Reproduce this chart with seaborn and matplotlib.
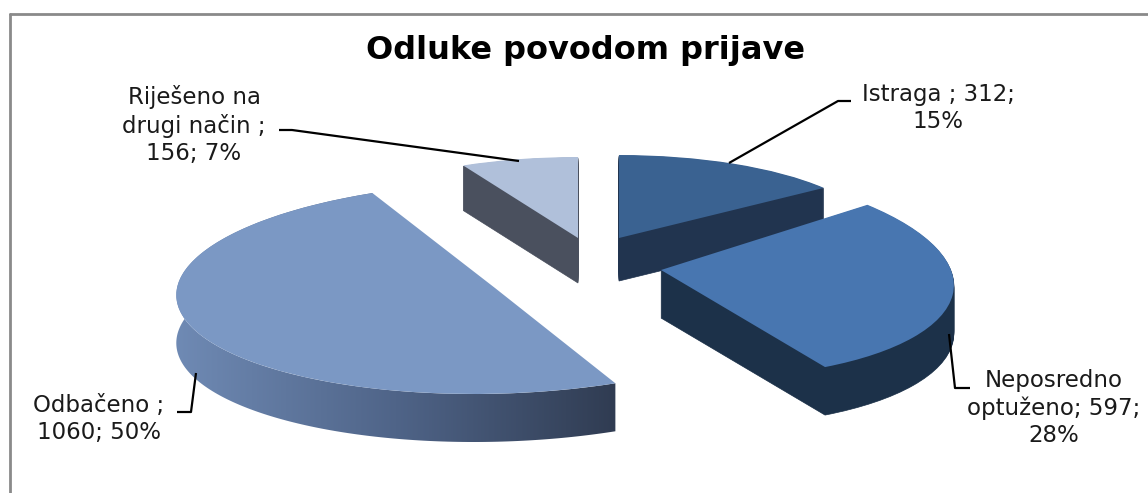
# Import libraries
import numpy as np
import matplotlib
matplotlib.use('Agg')
import matplotlib.pyplot as plt
import seaborn as sns
from matplotlib.patches import PathPatch, Polygon
from matplotlib.transforms import Affine2D
from matplotlib.colors import LinearSegmentedColormap

# Chart data
title = 'Odluke povodom prijave'
categories = ['Istraga', 'Neposredno optuženo', 'Odbačeno', 'Riješeno na drugi način']
values = [312, 597, 1060, 156]
percents = [15, 28, 50, 7]
label_templates = ['Istraga ; {v};\n{p}%', 'Neposredno\noptuženo; {v};\n{p}%',
                   'Odbačeno ;\n{v}; {p}%', 'Riješeno na\ndrugi način ;\n{v}; {p}%']

# Colours
top_colors = sns.color_palette(['#3A6291', '#4876B0', '#7B98C4', '#B0C0DA'])
wall_colors = sns.color_palette(['#21344F', '#1C3149', '#6B85AE', '#4A505E'])
wall_gradient = ['#6F8AB4', '#4F6488', '#303C52']

# Layout in pixels: center x, center y, radius x, radius y, depth, shear
slice_layout = [
    (619, 238, 257, 83, 43, 0.0),
    (661, 270, 290, 108, 48, 0.38),
    (495, 288, 318, 106, 48, -0.2),
    (578, 238, 258, 81, 45, 0.0),
]
label_pos = [(938, 108), (1054, 408), (99, 419), (194, 125)]
leaders = [
    [(851, 101), (838, 101), (729, 163)],
    [(970, 388), (955, 388), (949, 334)],
    [(177, 412), (191, 412), (196, 373)],
    [(279, 130), (292, 130), (519, 161)],
]
draw_order = [3, 0, 1, 2]

sns.set_theme(style='white')
plt.rcParams['font.family'] = ['DejaVu Sans']

fig = plt.figure(figsize=(11.48, 4.93), dpi=100)
ax = fig.add_axes([0, 0, 1, 1])

total = sum(values)
starts = np.cumsum([0] + values[:-1]) / total * 360


# Unit pie to pixels, flattened and sheared so the slice looks tilted
def slice_matrix(cx, cy, rx, ry, shear):
    return np.array([[rx, -shear * ry, cx], [0, -ry, cy], [0, 0, 1.0]])


# Draw one slice with a stacked side wall
def draw_slice(i):
    cx, cy, rx, ry, depth, shear = slice_layout[i]
    wedges, _ = ax.pie([values[i], total - values[i]], colors=[top_colors[i], 'none'],
                       startangle=90 - starts[i], counterclock=False,
                       radius=1, center=(0, 0),
                       wedgeprops={'linewidth': 0})
    wedge = wedges[0]
    wedges[1].remove()
    unit_path = wedge.get_path()
    m = slice_matrix(cx, cy, rx, ry, shear)

    if i == 2:
        # Odbačeno wall fades from left to right
        angles = np.radians(np.linspace(wedge.theta1, wedge.theta2, 200))
        arc = Affine2D(m).transform(np.c_[np.cos(angles), np.sin(angles)])
        outline = np.r_[arc, (arc + [0, depth])[::-1]]
        clip = Polygon(outline, closed=True, facecolor='none', edgecolor='none')
        ax.add_patch(clip)
        cmap = LinearSegmentedColormap.from_list('wall', wall_gradient)
        img = ax.imshow(np.linspace(0, 1, 256).reshape(1, -1), cmap=cmap, aspect='auto',
                        extent=(arc[:, 0].min(), arc[:, 0].max(), arc[:, 1].max() + depth, arc[:, 1].min()),
                        zorder=1)
        img.set_clip_path(clip)
    else:
        for d in range(depth, 0, -1):
            side = PathPatch(unit_path, facecolor=wall_colors[i], edgecolor=wall_colors[i],
                             linewidth=0.5, zorder=1 + draw_order.index(i) * 0.1)
            side.set_transform(Affine2D(m).translate(0, d) + ax.transData)
            ax.add_patch(side)

    wedge.set_transform(Affine2D(m) + ax.transData)
    wedge.set_zorder(1.05 + draw_order.index(i) * 0.1)


for i in draw_order:
    draw_slice(i)

# Leader lines and labels
for i, cat in enumerate(categories):
    pts = np.array(leaders[i])
    ax.plot(pts[:, 0], pts[:, 1], color='black', lw=1.6, zorder=5, solid_capstyle='butt')
    ax.text(label_pos[i][0], label_pos[i][1],
            label_templates[i].format(v=values[i], p=percents[i]),
            ha='center', va='center', fontsize=16.5, color='#1a1a1a', linespacing=1.25, zorder=6)

ax.text(585, 51, title, ha='center', va='center', fontsize=23, fontweight='bold', color='black')

# Chart frame: top and left edges only
ax.plot([10, 10], [14, 493], color='#8a8a8a', lw=2, zorder=7)
ax.plot([10, 1148], [14, 14], color='#8a8a8a', lw=2, zorder=7)

ax.set_aspect('auto')
ax.set_xlim(0, 1148)
ax.set_ylim(493, 0)
ax.axis('off')

fig.savefig('out.png', dpi=100, facecolor='white')
